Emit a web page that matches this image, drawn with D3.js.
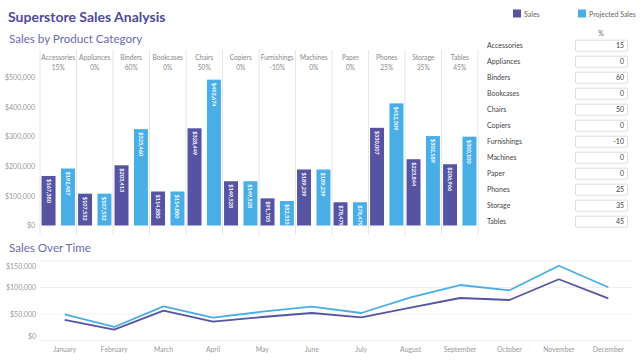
<!DOCTYPE html>
<html>
<head>
<meta charset="utf-8">
<script src="https://cdn.jsdelivr.net/npm/d3@7"></script>
<style>
body { margin: 0; background: #fff; }
svg { display: block; font-family: Lato, "Noto Sans", sans-serif; }
</style>
</head>
<body>
<svg width="640" height="363"></svg>
<script>
var categories = ["Accessories", "Appliances", "Binders", "Bookcases", "Chairs", "Copiers",
  "Furnishings", "Machines", "Paper", "Phones", "Storage", "Tables"];
var pctLabels = ["15%", "0%", "60%", "0%", "50%", "0%", "-10%", "0%", "0%", "25%", "35%", "45%"];
var pctInputs = [15, 0, 60, 0, 50, 0, -10, 0, 0, 25, 35, 45];
var sales = [167380, 107532, 203413, 114880, 328449, 149528, 91705, 189239, 78479, 330007, 223844, 206966];
var projected = [192487, 107532, 325460, 114880, 492674, 149528, 82535, 189239, 78479, 412509, 302189, 300100];
var barTicks = [0, 100000, 200000, 300000, 400000, 500000];

var months = ["January", "February", "March", "April", "May", "June", "July",
  "August", "September", "October", "November", "December"];
var monthlySales = [38700, 20400, 56200, 35500, 44300, 51900, 43800, 61900, 80200, 76400, 115500, 79600];
var monthlyProjected = [49400, 25500, 64500, 43000, 54300, 63800, 51900, 81500, 104700, 94700, 141100, 100400];
var lineTicks = [0, 50000, 100000, 150000];

var salesColor = "#5654a2",
projColor = "#4aaee6",
fmt = d3.format("$,");

var svg = d3.select("svg");

// titles
svg.append("text").attr("x", 8).attr("y", 21.5)
.attr("font-size", 14).attr("font-weight", "bold").attr("fill", "#4e4a9c")
.text("Superstore Sales Analysis");
svg.append("text").attr("x", 9).attr("y", 42.5)
.attr("font-size", 11.6).attr("fill", "#6a68b5")
.text("Sales by Product Category");
svg.append("text").attr("x", 9).attr("y", 252)
.attr("font-size", 11.6).attr("fill", "#6a68b5")
.text("Sales Over Time");

// legend
var legend = [{name: "Sales", color: salesColor, x: 513}, {name: "Projected Sales", color: projColor, x: 578}];
legend.forEach(function(d) {
  svg.append("rect").attr("x", d.x).attr("y", 9.5).attr("width", 8).attr("height", 8).attr("fill", d.color);
  svg.append("text").attr("x", d.x + 11).attr("y", 16.5).attr("font-size", 7).attr("fill", "#666").text(d.name);
});

// bar chart
var x0 = d3.scaleBand().domain(categories).range([40, 478]);
var x1 = d3.scaleBand().domain(["Sales", "Projected"]).range([0, x0.bandwidth()])
.paddingInner(0.28).paddingOuter(0.08);
var yBar = d3.scaleLinear().domain([0, 500000]).range([225.5, 77.5]);

var bars = svg.append("g");
categories.forEach(function(c, i) {
  bars.append("line").attr("x1", x0(c)).attr("x2", x0(c)).attr("y1", 50).attr("y2", 235)
  .attr("stroke", "#e6e6e6");
});
bars.append("line").attr("x1", 478).attr("x2", 478).attr("y1", 50).attr("y2", 235).attr("stroke", "#e6e6e6");

bars.selectAll(".hdr").data(categories).enter().append("text")
.attr("x", function(d) { return x0(d) + x0.bandwidth() / 2; })
.attr("y", 59.5).attr("text-anchor", "middle").attr("font-size", 6.6).attr("fill", "#888")
.text(function(d) { return d; });
bars.selectAll(".pct").data(pctLabels).enter().append("text")
.attr("x", function(d, i) { return x0(categories[i]) + x0.bandwidth() / 2; })
.attr("y", 70).attr("text-anchor", "middle").attr("font-size", 6.6).attr("fill", "#888")
.text(function(d) { return d; });

var yAxis = svg.append("g")
.attr("transform", "translate(38,0)")
.call(d3.axisLeft(yBar).tickValues(barTicks).tickFormat(fmt).tickSize(0).tickPadding(3));
yAxis.select(".domain").remove();
yAxis.selectAll("text").attr("font-family", "Lato, 'Noto Sans', sans-serif").attr("font-size", 7).attr("fill", "#999");

var barData = [];
for (var i = 0; i < categories.length; i++) {
  barData.push({cat: categories[i], key: "Sales", value: sales[i], color: salesColor});
  barData.push({cat: categories[i], key: "Projected", value: projected[i], color: projColor});
}

bars.selectAll(".bar").data(barData).enter().append("rect")
.attr("x", function(d) { return x0(d.cat) + x1(d.key); })
.attr("y", function(d) { return yBar(d.value); })
.attr("width", x1.bandwidth())
.attr("height", function(d) { return yBar(0) - yBar(d.value); })
.attr("fill", function(d) { return d.color; });

bars.selectAll(".lbl").data(barData).enter().append("text")
.attr("transform", function(d) {
  return "translate(" + (x0(d.cat) + x1(d.key) + x1.bandwidth() / 2) + "," + (yBar(d.value) + 3) + ") rotate(90)";
})
.attr("dy", "0.35em").attr("font-size", 5.6).attr("font-weight", "bold").attr("fill", "#fff")
.text(function(d) { return fmt(d.value); });

// percent inputs
svg.append("text").attr("x", 601).attr("y", 35.5).attr("text-anchor", "middle")
.attr("font-size", 7).attr("fill", "#666").text("%");
categories.forEach(function(c, i) {
  var cy = 45.7 + i * 16;
  svg.append("text").attr("x", 487).attr("y", cy + 2.5).attr("font-size", 7).attr("fill", "#444").text(c);
  svg.append("rect").attr("x", 575.5).attr("y", cy - 5.5).attr("width", 52).attr("height", 11)
  .attr("rx", 1).attr("fill", "#fff").attr("stroke", "#dcdcdc");
  svg.append("text").attr("x", 624).attr("y", cy + 2.5).attr("text-anchor", "end")
  .attr("font-size", 7).attr("fill", "#444").text(pctInputs[i]);
});

// line chart
var xLine = d3.scalePoint().domain(months).range([40, 633]).padding(0.5);
var yLine = d3.scaleLinear().domain([0, 150000]).range([340.5, 261]);

svg.append("g").selectAll("line").data(lineTicks).enter().append("line")
.attr("x1", 40).attr("x2", 633)
.attr("y1", function(d) { return yLine(d); }).attr("y2", function(d) { return yLine(d); })
.attr("stroke", "#f0f0f0");

svg.append("g").selectAll("text").data(lineTicks).enter().append("text")
.attr("x", 36).attr("text-anchor", "end").attr("font-size", 7).attr("fill", "#999")
.attr("y", function(d) {
  var y = yLine(d) + 2.5;
  if (d == 150000) y += 5.5;
  if (d == 0) y -= 4.5;
  return y;
})
.text(function(d) { return fmt(d); });

svg.append("g").selectAll("text").data(months).enter().append("text")
.attr("x", function(d) { return xLine(d); }).attr("y", 351.5)
.attr("text-anchor", "middle").attr("font-size", 6.8).attr("fill", "#999")
.text(function(d) { return d; });

var line = d3.line()
.x(function(d, i) { return xLine(months[i]); })
.y(function(d) { return yLine(d); });

svg.append("path").datum(monthlyProjected)
.attr("fill", "none").attr("stroke", projColor).attr("stroke-width", 1.8)
.attr("stroke-linejoin", "round").attr("d", line);
svg.append("path").datum(monthlySales)
.attr("fill", "none").attr("stroke", salesColor).attr("stroke-width", 1.8)
.attr("stroke-linejoin", "round").attr("d", line);
</script>
</body>
</html>
